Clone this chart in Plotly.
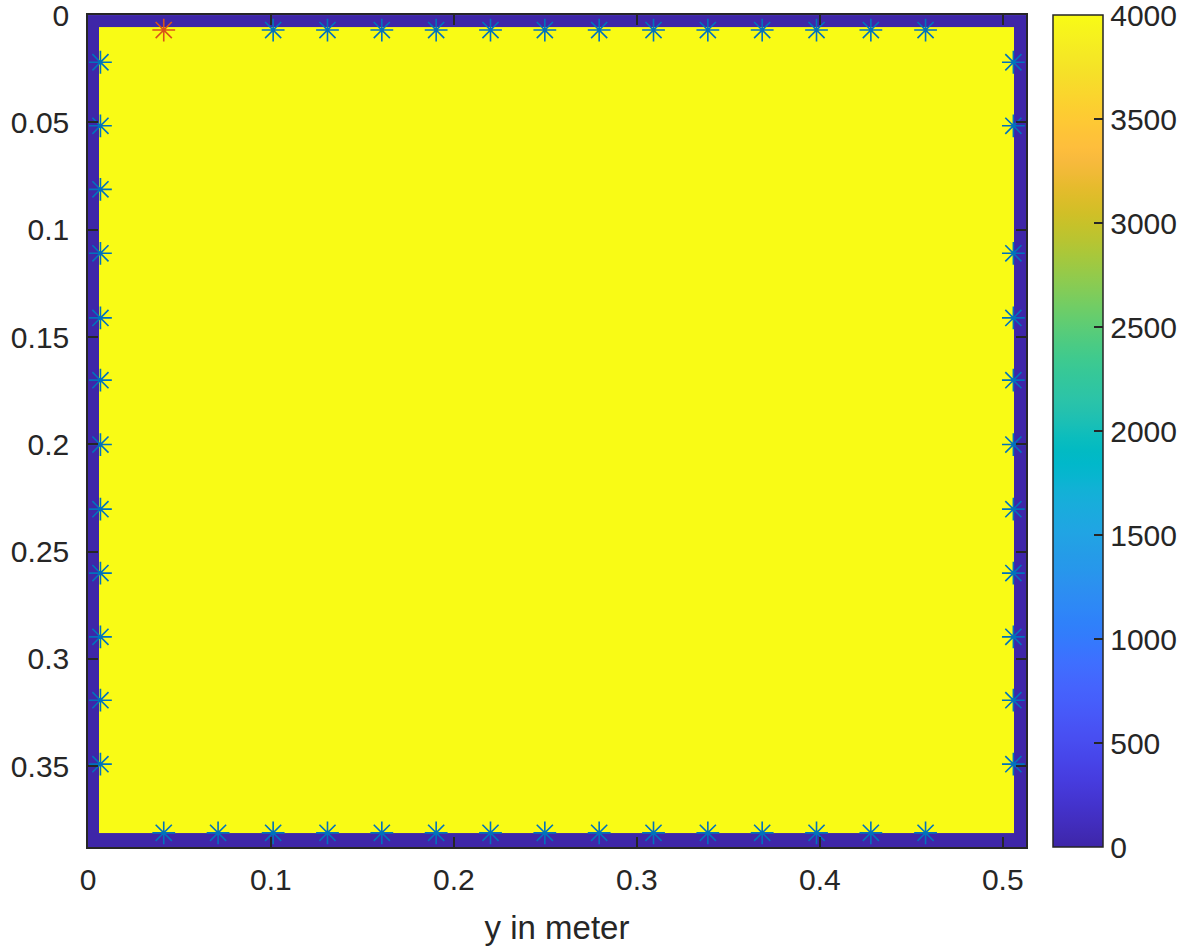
import plotly.graph_objects as go

# ---- data ----
# heatmap cell edges (m) and values: dark border (0) around a hot interior (4000)
x_edges = [0.0, 0.0059, 0.5063, 0.5127]
y_edges = [0.0, 0.0057, 0.3813, 0.3876]
z_vals = [
    [0, 0, 0],
    [0, 4000, 0],
    [0, 0, 0],
]

# sensor positions (blue asterisks)
top_x = [0.1012, 0.1309, 0.1606, 0.1903, 0.2200, 0.2497, 0.2794, 0.3091,
         0.3388, 0.3685, 0.3982, 0.4279, 0.4578]
top_y = 0.0070
bottom_x = [0.0414, 0.0711, 0.1012, 0.1309, 0.1606, 0.1903, 0.2200, 0.2497,
            0.2794, 0.3091, 0.3388, 0.3685, 0.3982, 0.4279, 0.4578]
bottom_y = 0.3810
left_y = [0.0220, 0.0516, 0.0812, 0.1110, 0.1411, 0.1701, 0.2001, 0.2302,
          0.2600, 0.2897, 0.3192, 0.3490]
left_x = 0.0068
right_y = [0.0220, 0.0516, 0.1110, 0.1411, 0.1701, 0.2001, 0.2302,
           0.2600, 0.2897, 0.3192, 0.3490]
right_x = 0.5058
# source (red asterisk)
src_x = [0.0414]
src_y = [0.0070]

x_ticks = [0, 0.1, 0.2, 0.3, 0.4, 0.5]
x_tick_text = ["0", "0.1", "0.2", "0.3", "0.4", "0.5"]
y_ticks = [0, 0.05, 0.1, 0.15, 0.2, 0.25, 0.3, 0.35]
y_tick_text = ["0", "0.05", "0.1", "0.15", "0.2", "0.25", "0.3", "0.35"]
cb_ticks = [0, 500, 1000, 1500, 2000, 2500, 3000, 3500, 4000]
cb_text = ["0", "500", "1000", "1500", "2000", "2500", "3000", "3500", "4000"]

# MATLAB parula (64 entries)
parula = [
    (0.2422, 0.1504, 0.6603), (0.2504, 0.1650, 0.7076), (0.2578, 0.1818, 0.7511),
    (0.2647, 0.1978, 0.7952), (0.2706, 0.2147, 0.8364), (0.2751, 0.2342, 0.8710),
    (0.2783, 0.2559, 0.8991), (0.2803, 0.2782, 0.9221), (0.2813, 0.3006, 0.9414),
    (0.2810, 0.3228, 0.9579), (0.2795, 0.3447, 0.9717), (0.2760, 0.3667, 0.9829),
    (0.2699, 0.3892, 0.9906), (0.2602, 0.4123, 0.9952), (0.2440, 0.4358, 0.9988),
    (0.2206, 0.4603, 0.9973), (0.1963, 0.4847, 0.9892), (0.1834, 0.5074, 0.9798),
    (0.1786, 0.5289, 0.9682), (0.1764, 0.5499, 0.9520), (0.1687, 0.5703, 0.9359),
    (0.1540, 0.5902, 0.9218), (0.1460, 0.6091, 0.9079), (0.1380, 0.6276, 0.8973),
    (0.1248, 0.6459, 0.8883), (0.1113, 0.6635, 0.8763), (0.0952, 0.6798, 0.8598),
    (0.0689, 0.6948, 0.8394), (0.0297, 0.7082, 0.8163), (0.0036, 0.7203, 0.7917),
    (0.0067, 0.7312, 0.7660), (0.0433, 0.7411, 0.7394), (0.0964, 0.7500, 0.7120),
    (0.1408, 0.7584, 0.6842), (0.1717, 0.7670, 0.6554), (0.1938, 0.7758, 0.6251),
    (0.2161, 0.7843, 0.5923), (0.2470, 0.7918, 0.5567), (0.2906, 0.7973, 0.5188),
    (0.3406, 0.8008, 0.4789), (0.3909, 0.8029, 0.4354), (0.4456, 0.8024, 0.3909),
    (0.5044, 0.7993, 0.3480), (0.5616, 0.7942, 0.3045), (0.6174, 0.7876, 0.2612),
    (0.6720, 0.7793, 0.2227), (0.7242, 0.7698, 0.1910), (0.7738, 0.7598, 0.1646),
    (0.8203, 0.7498, 0.1535), (0.8634, 0.7406, 0.1596), (0.9035, 0.7330, 0.1774),
    (0.9393, 0.7288, 0.2100), (0.9728, 0.7298, 0.2394), (0.9956, 0.7434, 0.2371),
    (0.9970, 0.7659, 0.2199), (0.9952, 0.7893, 0.2028), (0.9892, 0.8136, 0.1885),
    (0.9786, 0.8386, 0.1766), (0.9676, 0.8639, 0.1643), (0.9610, 0.8890, 0.1537),
    (0.9597, 0.9135, 0.1423), (0.9628, 0.9373, 0.1265), (0.9691, 0.9606, 0.1064),
    (0.9769, 0.9839, 0.0805),
]
n = len(parula)
colorscale = [[i / (n - 1), "rgb(%d,%d,%d)" % tuple(round(c * 255) for c in rgb)]
              for i, rgb in enumerate(parula)]

AX = "#262626"
FONT = "Liberation Sans, Arial, Helvetica, sans-serif"
BLUE = "#0072BD"
RED = "#D95319"

fig = go.Figure()
fig.add_trace(go.Heatmap(
    x=x_edges, y=y_edges, z=z_vals,
    zmin=0, zmax=4000.5, colorscale=colorscale,
    hoverinfo="skip",
    colorbar=dict(
        x=1.0288, xanchor="left", xpad=0,
        y=0.5, yanchor="middle", ypad=0,
        len=1, lenmode="fraction",
        thickness=50, thicknessmode="pixels",
        outlinecolor=AX, outlinewidth=1.5,
        tickmode="array", tickvals=cb_ticks, ticktext=cb_text,
        ticks="inside", ticklen=9, tickcolor=AX, tickwidth=1.5,
        tickprefix=" \u2009",
        ticklabeloverflow="allow",
        tickfont=dict(family=FONT, size=30, color=AX),
    ),
))

marker_blue = dict(symbol="asterisk-open", size=19, color=BLUE,
                   line=dict(width=1.6, color=BLUE))
fig.add_trace(go.Scatter(x=top_x, y=[top_y] * len(top_x), mode="markers",
                         marker=marker_blue, showlegend=False))
fig.add_trace(go.Scatter(x=bottom_x, y=[bottom_y] * len(bottom_x), mode="markers",
                         marker=marker_blue, showlegend=False))
fig.add_trace(go.Scatter(x=[left_x] * len(left_y), y=left_y, mode="markers",
                         marker=marker_blue, showlegend=False))
fig.add_trace(go.Scatter(x=[right_x] * len(right_y), y=right_y, mode="markers",
                         marker=marker_blue, showlegend=False))
fig.add_trace(go.Scatter(x=src_x, y=src_y, mode="markers",
                         marker=dict(symbol="asterisk-open", size=19, color=RED,
                                     line=dict(width=1.6, color=RED)),
                         showlegend=False))

fig.update_layout(
    width=1192, height=949,
    margin=dict(l=88, r=166, t=15, b=102, pad=0, autoexpand=False),
    paper_bgcolor="white", plot_bgcolor="white",
    font=dict(family=FONT, color=AX),
    showlegend=False,
    xaxis=dict(
        range=[0, 0.5127], tickmode="array", tickvals=x_ticks, ticktext=x_tick_text,
        ticks="inside", ticklen=10, tickwidth=1.5, tickcolor=AX,
        showline=True, linecolor=AX, linewidth=1.5, mirror="ticks",
        showgrid=False, zeroline=False, automargin=False,
        ticklabeloverflow="allow",
        tickfont=dict(family=FONT, size=30, color=AX),
        ticklabelstandoff=5,
        title=dict(text="y in meter", font=dict(family=FONT, size=33, color=AX),
                   standoff=21),
    ),
    yaxis=dict(
        range=[0.3876, -0.00002], tickmode="array", tickvals=y_ticks, ticktext=y_tick_text,
        ticks="inside", ticklen=10, tickwidth=1.5, tickcolor=AX,
        showline=True, linecolor=AX, linewidth=1.5, mirror="ticks",
        showgrid=False, zeroline=False, automargin=False,
        ticklabeloverflow="allow",
        tickfont=dict(family=FONT, size=30, color=AX),
        ticklabelstandoff=11,
    ),
)

fig.write_html("out.html")
